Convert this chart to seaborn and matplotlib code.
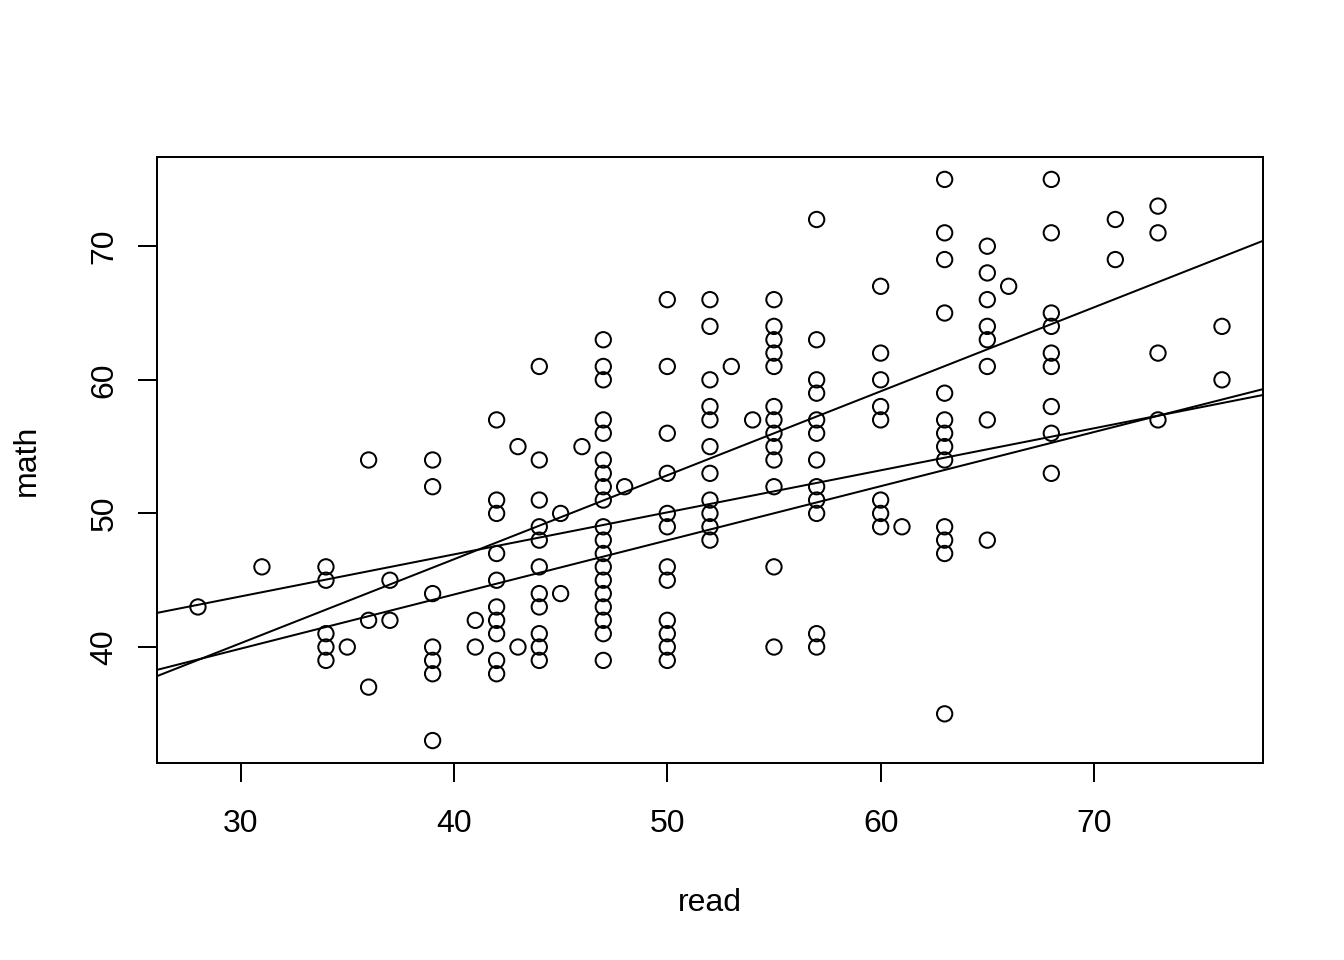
import matplotlib
matplotlib.use("Agg")
import matplotlib.pyplot as plt
import seaborn as sns
import pandas as pd

# scores, one line per read value
read = [28,
        31,
        34, 34, 34, 34, 34,
        35,
        36, 36, 36,
        37, 37,
        39, 39, 39, 39, 39, 39, 39,
        41, 41,
        42, 42, 42, 42, 42, 42, 42, 42, 42, 42,
        43, 43,
        44, 44, 44, 44, 44, 44, 44, 44, 44, 44, 44,
        45, 45,
        46,
        47, 47, 47, 47, 47, 47, 47, 47, 47, 47, 47, 47, 47, 47, 47, 47, 47, 47, 47,
        48,
        50, 50, 50, 50, 50, 50, 50, 50, 50, 50, 50, 50,
        52, 52, 52, 52, 52, 52, 52, 52, 52, 52, 52,
        53,
        54,
        55, 55, 55, 55, 55, 55, 55, 55, 55, 55, 55, 55, 55,
        57, 57, 57, 57, 57, 57, 57, 57, 57, 57, 57, 57,
        60, 60, 60, 60, 60, 60, 60, 60,
        61,
        63, 63, 63, 63, 63, 63, 63, 63, 63, 63, 63, 63, 63,
        65, 65, 65, 65, 65, 65, 65, 65,
        66,
        68, 68, 68, 68, 68, 68, 68, 68, 68,
        71, 71,
        73, 73, 73, 73,
        76, 76]
math = [43,
        46,
        46, 45, 41, 40, 39,
        40,
        54, 42, 37,
        45, 42,
        54, 52, 44, 40, 39, 38, 33,
        42, 40,
        57, 51, 50, 47, 45, 43, 42, 41, 39, 38,
        55, 40,
        61, 54, 51, 49, 48, 46, 44, 43, 41, 40, 39,
        50, 44,
        55,
        63, 61, 60, 57, 56, 54, 53, 52, 51, 49, 48, 47, 46, 45, 44, 43, 42, 41, 39,
        52,
        66, 61, 56, 53, 50, 49, 46, 45, 42, 41, 40, 39,
        66, 64, 60, 58, 57, 55, 53, 51, 50, 49, 48,
        61,
        57,
        66, 64, 63, 62, 61, 58, 57, 56, 55, 54, 52, 46, 40,
        72, 63, 60, 59, 57, 56, 54, 52, 51, 50, 41, 40,
        67, 62, 60, 58, 57, 51, 50, 49,
        49,
        75, 71, 69, 65, 59, 57, 56, 55, 54, 49, 48, 47, 35,
        70, 68, 66, 64, 63, 61, 57, 48,
        67,
        75, 71, 65, 64, 62, 61, 58, 56, 53,
        72, 69,
        73, 71, 62, 57,
        64, 60]

# fitted lines (intercept, slope)
line_intercepts = [34.35, 27.72, 21.43]
line_slopes = [0.3146, 0.4053, 0.6285]

sns.set_style("white")
plt.rcParams['font.family'] = ['Liberation Sans', 'DejaVu Sans']

df = pd.DataFrame({'read': read, 'math': math})

fig, ax = plt.subplots(figsize=(7, 5), dpi=192)
fig.subplots_adjust(left=0.1168, right=0.9397, bottom=0.2052, top=0.8365)

sns.scatterplot(data=df, x='read', y='math', ax=ax, marker='o', s=33,
                facecolor='none', edgecolor='black', linewidth=0.75)

for a, b in zip(line_intercepts, line_slopes):
    ax.axline((0, a), slope=b, color='black', linewidth=0.75)

ax.set_xlim(26.08, 77.92)
ax.set_ylim(31.32, 76.68)
ax.set_xticks([30, 40, 50, 60, 70])
ax.set_yticks([40, 50, 60, 70])

for side in ax.spines.values():
    side.set_visible(True)
    side.set_color('black')
    side.set_linewidth(0.75)

ax.tick_params(axis='both', direction='out', length=7.1, width=0.75,
               color='black', labelsize=12, labelcolor='black',
               bottom=True, left=True)
ax.tick_params(axis='x', pad=10)
ax.tick_params(axis='y', pad=7, labelrotation=90)
for lab in ax.get_yticklabels():
    lab.set_va('center')

ax.set_xlabel('read', fontsize=12, color='black')
ax.set_ylabel('math', fontsize=12, color='black')
ax.xaxis.set_label_coords(0.5, -0.206)
ax.yaxis.set_label_coords(-0.104, 0.5)

fig.savefig('out.png', dpi=192)
